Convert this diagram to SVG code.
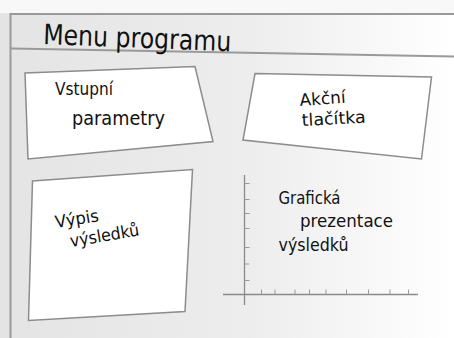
<svg xmlns="http://www.w3.org/2000/svg" width="454" height="338" viewBox="0 0 454 338">
<defs>
<linearGradient id="bg" x1="0" y1="0" x2="1" y2="0">
<stop offset="0" stop-color="#e4e4e4"/>
<stop offset="0.55" stop-color="#ededed"/>
<stop offset="1" stop-color="#ffffff"/>
</linearGradient>
<style>
.frame{fill:none;stroke:#9a9a9a;stroke-width:2}
.box{fill:#ffffff;stroke:#8c8c8c;stroke-width:1.5}
.t{font-family:"Comic Sans MS","DejaVu Sans","Liberation Sans",sans-serif;fill:#111111}
.axis{stroke:#8a8a8a;stroke-width:1.3;fill:none}
.tick{stroke:#9a9a9a;stroke-width:1;fill:none}
</style>
</defs>
<rect x="0" y="0" width="454" height="338" fill="url(#bg)"/>
<rect x="0" y="0" width="454" height="13" fill="#f8f8f8"/>
<path class="frame" d="M10.5,338 V14 H454"/>
<line class="frame" x1="11" y1="48.5" x2="454" y2="56.5"/>
<g id="title">
<text class="t" x="43" y="44" font-size="28" textLength="188" lengthAdjust="spacingAndGlyphs" transform="rotate(2.2 43 44)">Menu programu</text>
</g>
<g id="vstupni">
<polygon class="box" points="25,73 195,66.5 213,141.5 28,159"/>
<text class="t" x="55" y="95" font-size="17" textLength="58" lengthAdjust="spacingAndGlyphs">Vstupní</text>
<text class="t" x="72" y="125" font-size="19" textLength="93" lengthAdjust="spacingAndGlyphs">parametry</text>
</g>
<g id="akcni">
<polygon class="box" points="255,73.5 431.5,77 421.5,159 243,140"/>
<text class="t" x="300" y="106" font-size="17" textLength="46" lengthAdjust="spacingAndGlyphs" transform="rotate(-4 300 106)">Akční</text>
<text class="t" x="302" y="126" font-size="17" textLength="64" lengthAdjust="spacingAndGlyphs" transform="rotate(-3 302 126)">tlačítka</text>
</g>
<g id="vypis">
<polygon class="box" points="32.5,181 192.5,169.5 185,311.5 28.5,320.5"/>
<text class="t" x="56" y="228" font-size="17" textLength="44" lengthAdjust="spacingAndGlyphs" transform="rotate(-9 56 228)">Výpis</text>
<text class="t" x="71" y="247" font-size="17" textLength="70" lengthAdjust="spacingAndGlyphs" transform="rotate(-9.5 71 247)">výsledků</text>
</g>
<g id="graf">
<line class="axis" x1="244.5" y1="175" x2="244.5" y2="305"/>
<line class="axis" x1="223" y1="294.5" x2="418" y2="294.5"/>
<path class="tick" d="M244.5,183.5h5M244.5,199.5h5M244.5,213.5h5M244.5,228.5h5M244.5,247.5h5M244.5,264h5M244.5,280.5h5"/>
<path class="tick" d="M261.5,294.5v-5M275,294.5v-5M295,294.5v-5M309.5,294.5v-5M326,294.5v-5M346.5,294.5v-5M368.5,294.5v-5M390,294.5v-5M408.5,294.5v-5"/>
<text class="t" x="278.5" y="203.5" font-size="18" textLength="62" lengthAdjust="spacingAndGlyphs">Grafická</text>
<text class="t" x="300" y="227" font-size="18" textLength="93" lengthAdjust="spacingAndGlyphs">prezentace</text>
<text class="t" x="278.5" y="250.5" font-size="18" textLength="70" lengthAdjust="spacingAndGlyphs">výsledků</text>
</g>
</svg>
